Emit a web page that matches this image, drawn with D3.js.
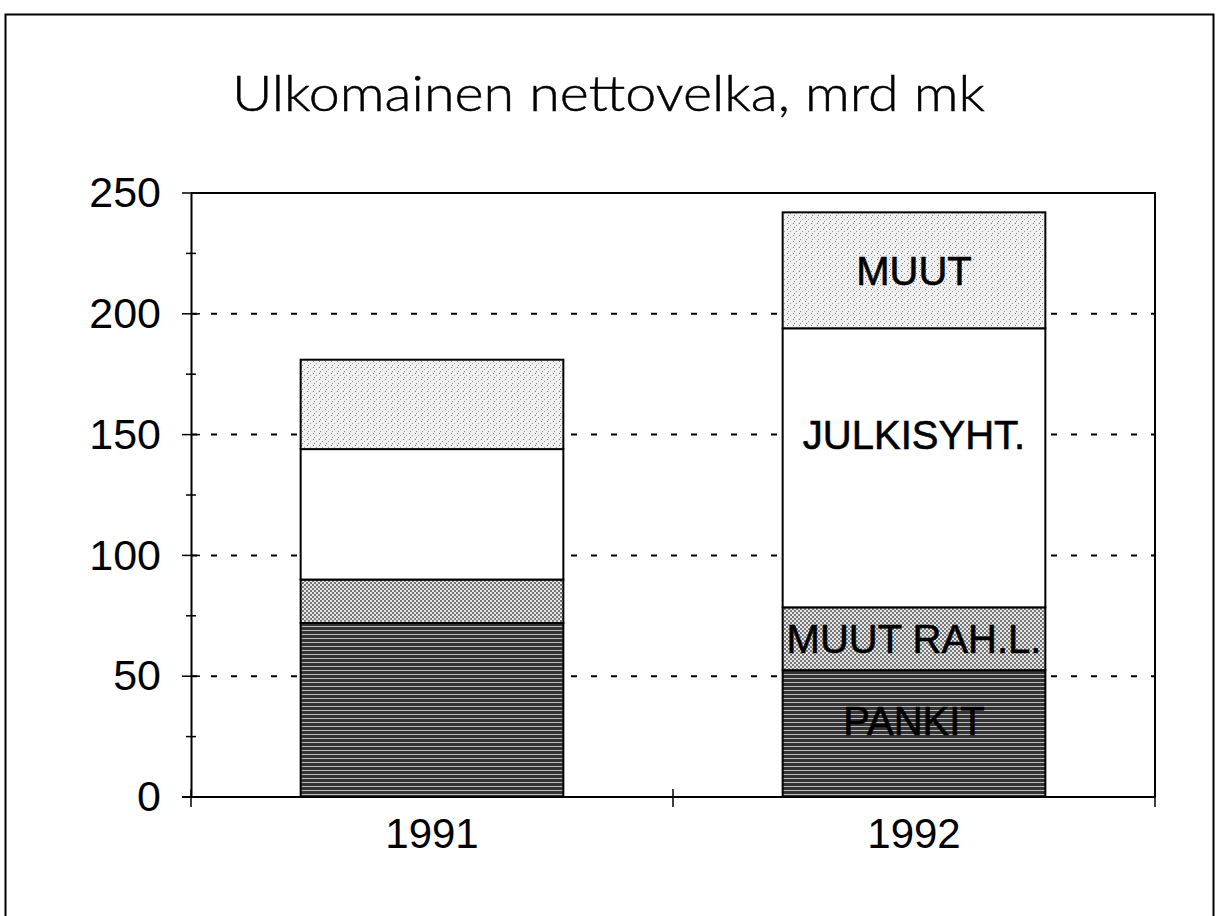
<!DOCTYPE html>
<html><head><meta charset="utf-8">
<script src="https://cdn.jsdelivr.net/npm/d3@7"></script>
<style>html,body{margin:0;padding:0;background:#fff}svg{display:block}</style>
</head><body>
<svg id="c" width="1216" height="916"></svg>
<script>
const years = ["1991", "1992"];
const seriesNames = ["PANKIT", "MUUT RAH.L.", "JULKISYHT.", "MUUT"];
const pankit = [72, 52.5];
const muutRahL = [18, 26];
const julkisyht = [54, 115.5];
const muut = [37, 48];
const yTicks = [0, 50, 100, 150, 200, 250];
const segmentLabelYear = "1992";

const svg = d3.select("#c");
const defs = svg.append("defs");

// patterns
const pDark = defs.append("pattern").attr("id","pDark").attr("patternUnits","userSpaceOnUse").attr("width",8).attr("height",4);
pDark.append("rect").attr("width",8).attr("height",4).attr("fill","#333");
pDark.append("rect").attr("y",2).attr("width",8).attr("height",1).attr("fill","#bdbdbd");
const pChk = defs.append("pattern").attr("id","pChk").attr("patternUnits","userSpaceOnUse").attr("width",4).attr("height",4);
pChk.append("rect").attr("width",4).attr("height",4).attr("fill","#e6e6e6");
pChk.append("rect").attr("width",2).attr("height",2).attr("fill","#777");
pChk.append("rect").attr("x",2).attr("y",2).attr("width",2).attr("height",2).attr("fill","#777");
const pDot = defs.append("pattern").attr("id","pDot").attr("patternUnits","userSpaceOnUse").attr("width",6).attr("height",6);
pDot.append("rect").attr("width",6).attr("height",6).attr("fill","#f0f0f0");
pDot.append("rect").attr("x",1).attr("y",1).attr("width",1).attr("height",1).attr("fill","#777");
pDot.append("rect").attr("x",4).attr("y",3).attr("width",1).attr("height",1).attr("fill","#999");
pDot.append("rect").attr("x",2).attr("y",5).attr("width",1).attr("height",1).attr("fill","#888");
const fills = ["url(#pDark)", "url(#pChk)", "#ffffff", "url(#pDot)"];

// outer frame
svg.append("path").attr("d","M5.5,916 V14.5 H1213.5 V916").attr("fill","none").attr("stroke","#000").attr("stroke-width",2);

// title
svg.append("text").attr("x",232).attr("y",111)
  .attr("font-family","Lato, 'Noto Sans', sans-serif").attr("font-weight",300)
  .attr("font-size",50).attr("textLength",753).attr("lengthAdjust","spacingAndGlyphs")
  .attr("stroke","#000").attr("stroke-width",0.5)
  .attr("fill","#000").text("Ulkomainen nettovelka, mrd mk");

const L = 191, R = 1155, T = 193, B = 797;
const x = d3.scaleBand().domain(years).range([L, R]).paddingInner(0.455).paddingOuter(0.2275);
const y = d3.scaleLinear().domain([0, 250]).range([B, T]);

const data = years.map((yr, i) => ({year: yr, "PANKIT": pankit[i], "MUUT RAH.L.": muutRahL[i], "JULKISYHT.": julkisyht[i], "MUUT": muut[i]}));
const stack = d3.stack().keys(seriesNames)(data);

// gridlines
svg.append("g").selectAll("line").data(yTicks.filter(t => t > 0 && t < 250)).join("line")
  .attr("x1", L).attr("x2", R).attr("y1", d => y(d)).attr("y2", d => y(d))
  .attr("stroke","#000").attr("stroke-width",2).attr("stroke-dasharray","6,14");

// plot top & right border
svg.append("path").attr("d",`M${L},${T} H${R} V${B}`).attr("fill","none").attr("stroke","#000").attr("stroke-width",2);

// bars
stack.forEach((s, si) => {
  svg.append("g").selectAll("rect").data(s).join("rect")
    .attr("x", d => x(d.data.year)).attr("width", x.bandwidth())
    .attr("y", d => y(d[1])).attr("height", d => y(d[0]) - y(d[1]))
    .attr("fill", fills[si]).attr("stroke","#000").attr("stroke-width",2);
});

// y axis
const yAxis = d3.axisLeft(y).tickValues(yTicks).tickSize(0).tickPadding(30);
const gy = svg.append("g").attr("transform",`translate(${L},0)`).call(yAxis);
gy.select(".domain").attr("stroke","#000").attr("stroke-width",2);
gy.selectAll("text").attr("font-family","'Liberation Sans', Arial, sans-serif").attr("font-size",43).attr("fill","#000");
svg.append("g").selectAll("line").data(d3.range(0, 251, 25)).join("line")
  .attr("x1", d => d % 50 === 0 ? L - 9 : L - 5).attr("x2", d => d % 50 === 0 ? L + 9 : L + 5)
  .attr("y1", d => y(d)).attr("y2", d => y(d)).attr("stroke","#000").attr("stroke-width",1.5);

// x axis
const xAxis = d3.axisBottom(x).tickSize(0).tickPadding(21);
const gx = svg.append("g").attr("transform",`translate(0,${B})`).call(xAxis);
gx.select(".domain").remove();
svg.append("line").attr("x1", L - 9).attr("x2", R).attr("y1", B).attr("y2", B).attr("stroke","#000").attr("stroke-width",2);
gx.selectAll("text").attr("font-family","'Liberation Sans', Arial, sans-serif").attr("font-size",42).attr("fill","#000").attr("dy","0.71em");
// category boundary ticks
const bounds = [L, (x("1991") + x.bandwidth() + x("1992")) / 2, R];
svg.append("g").selectAll("line").data(bounds).join("line")
  .attr("x1", d => d).attr("x2", d => d).attr("y1", B - 8).attr("y2", B + 10)
  .attr("stroke","#000").attr("stroke-width",1.5);

// segment labels
const li = years.indexOf(segmentLabelYear);
stack.forEach((s, si) => {
  const d = s[li];
  svg.append("text").attr("x", x(segmentLabelYear) + x.bandwidth() / 2)
    .attr("y", si === 2 ? y(150) : si === 0 ? y(d[1] * 0.6) : (y(d[0]) + y(d[1])) / 2)
    .attr("dy","0.36em").attr("text-anchor","middle")
    .attr("font-family","'Liberation Sans', Arial, sans-serif").attr("font-size",40)
    .attr("stroke","#000").attr("stroke-width",0.6)
    .attr("fill","#000").text(seriesNames[si]);
});
</script>
</body></html>
